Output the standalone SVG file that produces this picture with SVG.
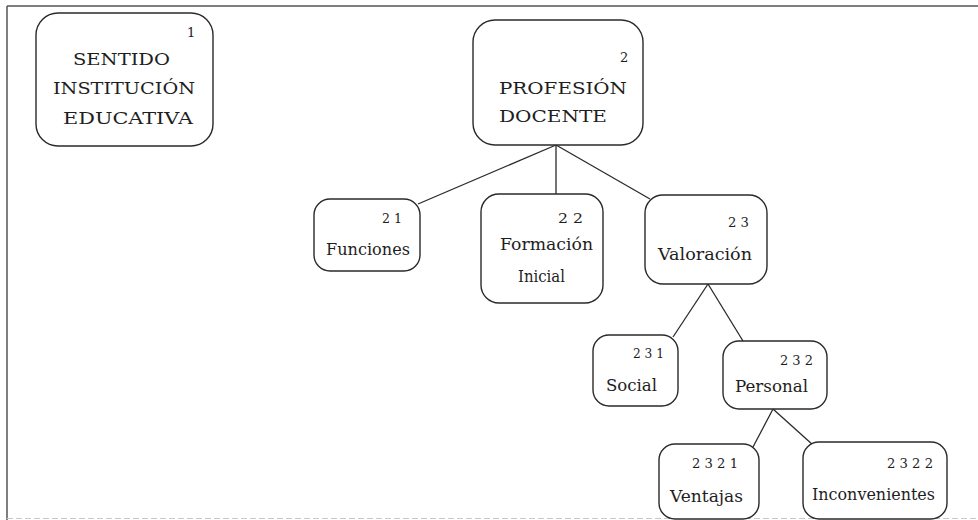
<svg xmlns="http://www.w3.org/2000/svg" width="978" height="520" viewBox="0 0 978 520">
<style>
.box{fill:#fff;stroke:#2a2a2a;stroke-width:1.4}
.ln{stroke:#2a2a2a;stroke-width:1.3;fill:none}
.frame{stroke:#555;stroke-width:1.5;fill:none}
.t{font-family:'DejaVu Serif',serif;fill:#1e1e1e}
.big{font-size:17px}
.lab{font-size:16px}
.num{font-size:13px}
</style>
<rect width="978" height="520" fill="#fff"/>
<g id="frame">
<line class="frame" x1="7" y1="6" x2="978" y2="6"/>
<line class="frame" x1="7" y1="6" x2="7" y2="520"/>
<line x1="7" y1="518.5" x2="978" y2="518.5" stroke="#c8c8c8" stroke-width="1" stroke-dasharray="6 3"/>
</g>
<g id="connectors">
<line class="ln" x1="556" y1="145" x2="418" y2="204"/>
<line class="ln" x1="556" y1="145" x2="556" y2="194"/>
<line class="ln" x1="556" y1="145" x2="650" y2="199"/>
<line class="ln" x1="708" y1="284" x2="673" y2="337"/>
<line class="ln" x1="708" y1="284" x2="743" y2="341"/>
<line class="ln" x1="773" y1="409" x2="753" y2="447"/>
<line class="ln" x1="773" y1="409" x2="813" y2="445"/>
</g>
<g id="n1" class="t">
<rect class="box" x="36" y="13" width="177" height="133" rx="22"/>
<text class="num" x="187" y="37">1</text>
<text class="big" x="73" y="65" textLength="97" lengthAdjust="spacingAndGlyphs">SENTIDO</text>
<text class="big" x="53" y="94" textLength="142" lengthAdjust="spacingAndGlyphs">INSTITUCIÓN</text>
<text class="big" x="63" y="124" textLength="130" lengthAdjust="spacingAndGlyphs">EDUCATIVA</text>
</g>
<g id="n2" class="t">
<rect class="box" x="473" y="20" width="170" height="125" rx="22"/>
<text class="num" x="620" y="62">2</text>
<text class="big" x="499" y="94" textLength="128" lengthAdjust="spacingAndGlyphs">PROFESIÓN</text>
<text class="big" x="499" y="122" textLength="108" lengthAdjust="spacingAndGlyphs">DOCENTE</text>
</g>
<g id="n21" class="t">
<rect class="box" x="314" y="199" width="106" height="72" rx="16"/>
<text class="num" x="382" y="223" textLength="20" lengthAdjust="spacingAndGlyphs">2 1</text>
<text class="lab" x="326" y="255" textLength="84" lengthAdjust="spacingAndGlyphs">Funciones</text>
</g>
<g id="n22" class="t">
<rect class="box" x="481" y="194" width="122" height="109" rx="18"/>
<text class="num" x="558" y="223" textLength="25" lengthAdjust="spacingAndGlyphs">2 2</text>
<text class="lab" x="500" y="250" textLength="93" lengthAdjust="spacingAndGlyphs">Formación</text>
<text class="lab" x="518" y="282" textLength="47" lengthAdjust="spacingAndGlyphs">Inicial</text>
</g>
<g id="n23" class="t">
<rect class="box" x="645" y="195" width="122" height="89" rx="18"/>
<text class="num" x="728" y="227" textLength="21" lengthAdjust="spacingAndGlyphs">2 3</text>
<text class="lab" x="658" y="260" textLength="94" lengthAdjust="spacingAndGlyphs">Valoración</text>
</g>
<g id="n231" class="t">
<rect class="box" x="593" y="335" width="85" height="71" rx="16"/>
<text class="num" x="633" y="358" textLength="31" lengthAdjust="spacingAndGlyphs">2 3 1</text>
<text class="lab" x="606" y="391" textLength="51" lengthAdjust="spacingAndGlyphs">Social</text>
</g>
<g id="n232" class="t">
<rect class="box" x="723" y="341" width="104" height="68" rx="16"/>
<text class="num" x="780" y="365" textLength="33" lengthAdjust="spacingAndGlyphs">2 3 2</text>
<text class="lab" x="735" y="392" textLength="73" lengthAdjust="spacingAndGlyphs">Personal</text>
</g>
<g id="n2321" class="t">
<rect class="box" x="659" y="444" width="100" height="75" rx="16"/>
<text class="num" x="692" y="468" textLength="46" lengthAdjust="spacingAndGlyphs">2 3 2 1</text>
<text class="lab" x="670" y="502" textLength="73" lengthAdjust="spacingAndGlyphs">Ventajas</text>
</g>
<g id="n2322" class="t">
<rect class="box" x="803" y="442" width="144" height="77" rx="16"/>
<text class="num" x="887" y="468" textLength="46" lengthAdjust="spacingAndGlyphs">2 3 2 2</text>
<text class="lab" x="812" y="500" textLength="123" lengthAdjust="spacingAndGlyphs">Inconvenientes</text>
</g>
</svg>
